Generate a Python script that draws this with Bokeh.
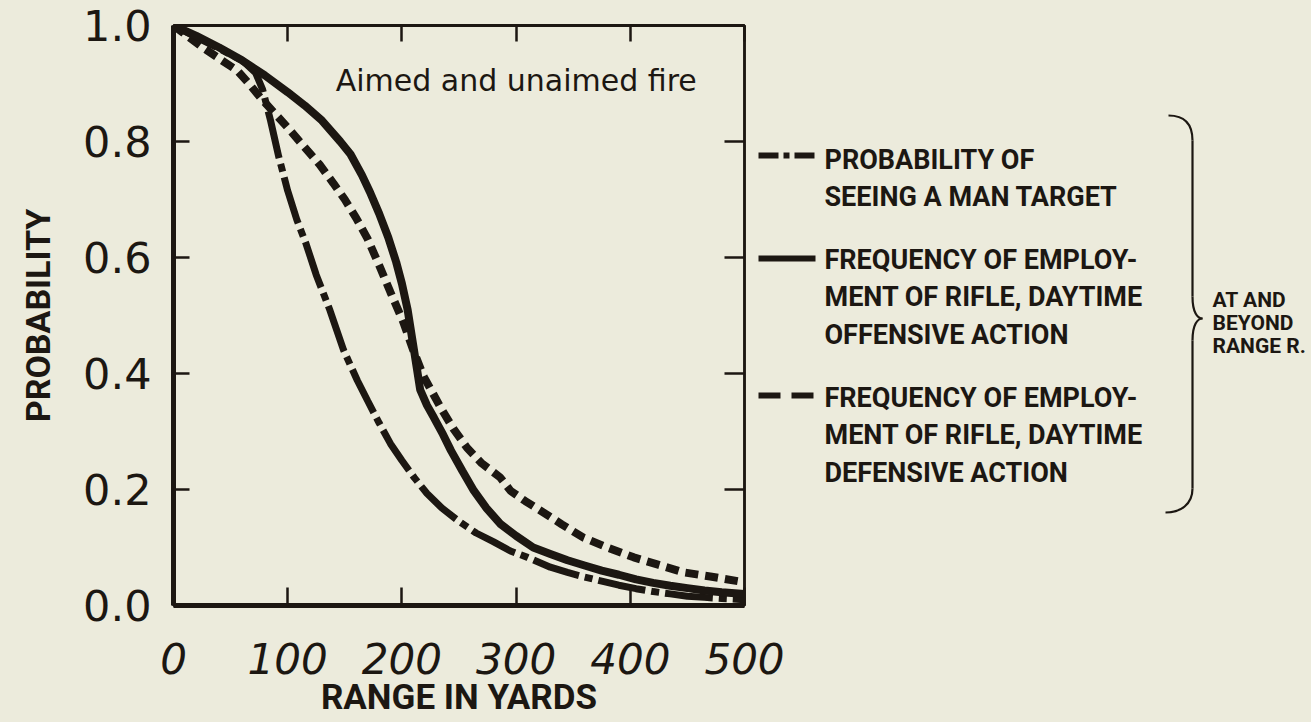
from bokeh.plotting import figure
from bokeh.layouts import row
from bokeh.models import (Range1d, LinearAxis, Label, NumeralTickFormatter,
                          FixedTicker, CustomJSTickFormatter)
from bokeh.core.properties import value
from bokeh.embed import file_html
from bokeh.resources import INLINE

PAPER = "#ecebdc"
INK = "#1c1712"
LETTER = "Roboto"
DIGITS = "DejaVu Sans"

# ---------------- data ----------------
seeing_range = [0, 20, 40, 60, 72, 78, 85, 92, 100, 108, 116, 125, 137, 149, 161,
                170, 180, 190, 200, 211, 222, 235, 250, 265, 280, 295, 310, 330,
                345, 360, 375, 390, 405, 420, 435, 450, 465, 480, 500]
seeing_prob = [1.0, 0.98, 0.96, 0.94, 0.918, 0.89, 0.836, 0.775, 0.715, 0.665,
               0.624, 0.57, 0.509, 0.44, 0.388, 0.353, 0.315, 0.279, 0.25, 0.22,
               0.193, 0.168, 0.145, 0.125, 0.11, 0.094, 0.083, 0.066, 0.057, 0.049,
               0.042, 0.035, 0.029, 0.024, 0.02, 0.016, 0.014, 0.012, 0.01]

offensive_range = [0, 20, 40, 60, 80, 100, 115, 130, 146, 155, 165, 172, 180, 188,
                   195, 200, 205, 209, 213, 216, 222, 228, 236, 243, 253, 263, 274,
                   286, 300, 315, 330, 345, 360, 375, 390, 405, 420, 435, 450, 465,
                   480, 500]
offensive_freq = [1.0, 0.982, 0.962, 0.94, 0.914, 0.885, 0.862, 0.836, 0.8, 0.778,
                  0.742, 0.713, 0.676, 0.635, 0.592, 0.555, 0.51, 0.46, 0.41, 0.372,
                  0.345, 0.324, 0.295, 0.267, 0.232, 0.198, 0.168, 0.141, 0.12, 0.10,
                  0.089, 0.078, 0.069, 0.06, 0.053, 0.045, 0.039, 0.034, 0.03, 0.026,
                  0.023, 0.02]

defensive_range = [0, 10, 25, 40, 56, 66, 76, 88, 100, 117, 128, 140, 150, 160, 170,
                   180, 190, 201, 210, 219, 226, 234, 245, 257, 270, 286, 295, 308,
                   321, 340, 359, 380, 403, 425, 447, 470, 500]
defensive_freq = [1.0, 0.985, 0.963, 0.943, 0.922, 0.9, 0.876, 0.85, 0.824, 0.785,
                  0.76, 0.728, 0.70, 0.668, 0.632, 0.587, 0.54, 0.49, 0.44, 0.395,
                  0.37, 0.341, 0.305, 0.272, 0.245, 0.221, 0.198, 0.18, 0.164, 0.14,
                  0.117, 0.1, 0.083, 0.07, 0.057, 0.05, 0.04]

x_ticks = [0, 100, 200, 300, 400, 500]
y_ticks = [0.0, 0.2, 0.4, 0.6, 0.8, 1.0]

title_text = "Aimed and unaimed fire"
x_label = "RANGE IN YARDS"
y_label = "PROBABILITY"
series_labels = [
    ["PROBABILITY OF", "SEEING A MAN TARGET"],
    ["FREQUENCY OF EMPLOY-", "MENT OF RIFLE, DAYTIME", "OFFENSIVE ACTION"],
    ["FREQUENCY OF EMPLOY-", "MENT OF RIFLE, DAYTIME", "DEFENSIVE ACTION"],
]
brace_label = ["AT AND", "BEYOND", "RANGE R."]

# ---------------- layout constants (page pixels) ----------------
MAIN_W, H = 792, 721
TOP, BOTTOM = 25, 116          # frame spans page y 25 .. 605
FRAME_BOTTOM = H - BOTTOM

# ---------------- main chart ----------------
p = figure(width=MAIN_W, height=H, x_range=Range1d(0, 500), y_range=Range1d(0, 1),
           min_border_left=173, min_border_right=48, min_border_top=TOP,
           min_border_bottom=BOTTOM, output_backend="svg", toolbar_location=None,
           background_fill_color=PAPER, border_fill_color=PAPER)
p.grid.visible = False
p.outline_line_color = INK
p.outline_line_width = 2.5

xa = p.xaxis[0]
xa.ticker = FixedTicker(ticks=x_ticks, minor_ticks=[])
xa.axis_line_color = INK
xa.axis_line_width = 5
xa.major_tick_in = 18
xa.major_tick_out = 0
xa.major_tick_line_width = 2.5
xa.major_tick_line_color = INK
xa.major_label_text_font = DIGITS
xa.major_label_text_font_style = "italic"
xa.major_label_text_font_size = "42px"
xa.major_label_text_color = INK
xa.major_label_standoff = 37
xa.axis_label = x_label
xa.axis_label_text_font = LETTER
xa.axis_label_text_font_style = "bold"
xa.axis_label_text_font_size = "35px"
xa.axis_label_text_color = INK
xa.axis_label_standoff = 0

ya = p.yaxis[0]
ya.ticker = FixedTicker(ticks=y_ticks, minor_ticks=[])
ya.formatter = NumeralTickFormatter(format="0.0")
ya.axis_line_color = INK
ya.axis_line_width = 5
ya.major_tick_in = 16
ya.major_tick_out = 0
ya.major_tick_line_width = 2.5
ya.major_tick_line_color = INK
ya.major_label_text_font = DIGITS
ya.major_label_text_font_size = "43px"
ya.major_label_text_color = INK
ya.major_label_standoff = 22
ya.axis_label = y_label
ya.axis_label_text_font = LETTER
ya.axis_label_text_font_style = "bold"
ya.axis_label_text_font_size = "34px"
ya.axis_label_text_color = INK
ya.axis_label_standoff = 22

blank = CustomJSTickFormatter(code="return ''")
ra = LinearAxis(ticker=FixedTicker(ticks=y_ticks, minor_ticks=[]), formatter=blank,
                major_tick_in=20, major_tick_out=0, major_tick_line_width=2.5,
                major_tick_line_color=INK, axis_line_color=INK, axis_line_width=2.5,
                major_label_standoff=0)
p.add_layout(ra, "right")
ta = LinearAxis(ticker=FixedTicker(ticks=x_ticks, minor_ticks=[]), formatter=blank,
                major_tick_in=16, major_tick_out=0, major_tick_line_width=2.5,
                major_tick_line_color=INK, axis_line_color=INK, axis_line_width=3,
                major_label_standoff=0)
p.add_layout(ta, "above")

p.line(seeing_range, seeing_prob, line_color=INK, line_width=7, line_dash="48 6 8 6")
p.line(defensive_range, defensive_freq, line_color=INK, line_width=8, line_dash="13 7")
p.line(offensive_range, offensive_freq, line_color=INK, line_width=8)

p.add_layout(Label(x=142, y=0.905, text=title_text, text_font=DIGITS,
                   text_font_size="30px", text_color=INK, text_baseline="middle"))

# ---------------- legend panel (overlaps the chart's right margin) ----------------
LEG_W, OVERLAP = 562, 44
lg = figure(width=LEG_W, height=H, x_range=Range1d(0, LEG_W),
            y_range=Range1d(FRAME_BOTTOM, TOP),
            min_border_left=0, min_border_right=0, min_border_top=TOP,
            min_border_bottom=BOTTOM, x_axis_location=None, y_axis_location=None,
            output_backend="svg", toolbar_location=None,
            background_fill_alpha=0, border_fill_alpha=0)
lg.grid.visible = False
lg.outline_line_color = None
lg.margin = (0, 0, 0, -OVERLAP)

sample_styles = [dict(line_width=6, line_dash="20 5 6 5"),
                 dict(line_width=6),
                 dict(line_width=6, line_dash="22 11")]
sample_y = [155, 258, 395]
first_line_y = [158, 258, 396]
spacing = 37.5
tx, ty, tt = [], [], []
for k, lines in enumerate(series_labels):
    lg.line([10, 67], [sample_y[k], sample_y[k]], line_color=INK, **sample_styles[k])
    for j, s in enumerate(lines):
        tx.append(76)
        ty.append(first_line_y[k] + j * spacing + 1)
        tt.append(s)
lg.text(x=tx, y=ty, text=tt, text_font=value(LETTER), text_font_style="bold",
        text_font_size="27px", text_baseline="middle", text_color=INK)

# brace
lg.bezier(x0=[420, 444, 454, 444], y0=[115, 296, 318, 488],
          x1=[444, 454, 444, 417], y1=[140, 318, 340, 512],
          cx0=[436, 444, 449, 444], cy0=[115, 312, 318, 504],
          cx1=[444, 449, 444, 432], cy1=[124, 318, 324, 512],
          line_color=INK, line_width=2.2)
lg.segment(x0=[444, 444], y0=[140, 340], x1=[444, 444], y1=[296, 488],
           line_color=INK, line_width=2.2)
lg.text(x=[464] * 3, y=[299, 322, 345], text=brace_label, text_font=value(LETTER),
        text_font_style="bold", text_font_size="21px", text_baseline="middle",
        text_color=INK)

layout = row(p, lg)
html = file_html(layout, INLINE)
style = ("<style>html, body { background: %s !important; margin: 0 !important; }"
         "</style>" % PAPER)
if "</head>" in html:
    html = html.replace("</head>", style + "</head>", 1)
else:
    html = style + html
open("out.html", "w").write(html)
